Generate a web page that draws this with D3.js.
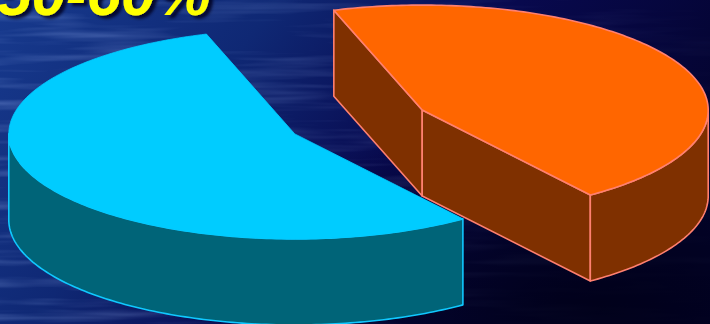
<!DOCTYPE html>
<html>
<head>
<meta charset="utf-8">
<script src="https://cdn.jsdelivr.net/npm/d3@7"></script>
<style>
html,body{margin:0;padding:0;background:#06063a;overflow:hidden;}
svg{display:block;}
</style>
</head>
<body>
<svg id="chart" width="710" height="324"></svg>
<script>
// ---- data ----
const categories = ["Cyan share", "Orange share"];
const values = [55, 45];
const titleText = "50-60%";
const topColors = ["#00ccff", "#ff6600"];
const sideColors = ["#006478", "#7f3000"];
const edgeColors = ["#10c8ff", "#ff8070"];
const explodeAmounts = [0.25, 0.25];

const W = 710, H = 324;
const svg = d3.select("#chart");
const defs = svg.append("defs");

// background
const bg = defs.append("linearGradient").attr("id", "bgGrad")
  .attr("x1", "0").attr("y1", "0").attr("x2", "1").attr("y2", "0.35");
bg.append("stop").attr("offset", "0").attr("stop-color", "#173a8e");
bg.append("stop").attr("offset", "0.35").attr("stop-color", "#0f2874");
bg.append("stop").attr("offset", "0.65").attr("stop-color", "#08094e");
bg.append("stop").attr("offset", "1").attr("stop-color", "#040430");
const dark = defs.append("radialGradient").attr("id", "darkGrad")
  .attr("cx", "0.85").attr("cy", "0.95").attr("r", "0.6");
dark.append("stop").attr("offset", "0").attr("stop-color", "#000018").attr("stop-opacity", 0.9);
dark.append("stop").attr("offset", "1").attr("stop-color", "#000018").attr("stop-opacity", 0);

const tex = defs.append("filter").attr("id", "water")
  .attr("x", 0).attr("y", 0).attr("width", "100%").attr("height", "100%");
tex.append("feTurbulence").attr("type", "fractalNoise")
  .attr("baseFrequency", "0.006 0.09").attr("numOctaves", 3).attr("seed", 7).attr("result", "n");
tex.append("feColorMatrix").attr("type", "matrix")
  .attr("values", "0 0 0 0 0.4  0 0 0 0 0.55  0 0 0 0 1  0 0 0 1.6 -0.75");

const fadeMask = defs.append("linearGradient").attr("id", "fadeG")
  .attr("x1", "0").attr("y1", "0").attr("x2", "1").attr("y2", "0");
fadeMask.append("stop").attr("offset", "0").attr("stop-color", "#fff");
fadeMask.append("stop").attr("offset", "0.55").attr("stop-color", "#888");
fadeMask.append("stop").attr("offset", "1").attr("stop-color", "#222");
defs.append("mask").attr("id", "fadeM").append("rect")
  .attr("width", W).attr("height", H).attr("fill", "url(#fadeG)");

svg.append("rect").attr("width", W).attr("height", H).attr("fill", "url(#bgGrad)");
svg.append("rect").attr("width", W).attr("height", H).attr("filter", "url(#water)")
  .attr("mask", "url(#fadeM)").attr("opacity", 0.45);
svg.append("rect").attr("width", W).attr("height", H).attr("fill", "url(#darkGrad)");

// title with drop shadow
const sh = defs.append("filter").attr("id", "tshadow")
  .attr("x", "-10%").attr("y", "-50%").attr("width", "130%").attr("height", "200%");
sh.append("feDropShadow").attr("dx", 4).attr("dy", 3).attr("stdDeviation", 1.5)
  .attr("flood-color", "#000022").attr("flood-opacity", 0.85);
svg.append("text").attr("x", -3).attr("y", 15)
  .attr("font-family", "Liberation Sans, Arial, sans-serif")
  .attr("font-weight", "bold").attr("font-style", "italic").attr("font-size", 62)
  .attr("fill", "#ffff00").attr("filter", "url(#tshadow)")
  .text(titleText);

// ---- 3D pie ----
const base = {x: 358.5, y: 122};
const rx = 286, ry = 105, depth = 86;
const deg = Math.PI / 180;
const TAU = 2 * Math.PI;

const pie = d3.pie().sort(null).value(d => d)
  .startAngle(-18 * deg - values[0] / d3.sum(values) * TAU)
  .endAngle(-18 * deg + values[1] / d3.sum(values) * TAU);
const arcs = pie(values);

const line = d3.line();
function pt(c, a, dy) { return [c.x + rx * Math.sin(a), c.y - ry * Math.cos(a) + (dy || 0)]; }
function arcPts(c, a0, a1, dy) {
  const n = Math.max(2, Math.ceil(Math.abs(a1 - a0) / (1 * deg)));
  return d3.range(n + 1).map(i => pt(c, a0 + (a1 - a0) * i / n, dy));
}

const order = [1, 0]; // back slice first
order.forEach(i => {
  const a = arcs[i];
  const mid = (a.startAngle + a.endAngle) / 2;
  const c = {x: base.x + rx * explodeAmounts[i] * Math.sin(mid),
             y: base.y - ry * explodeAmounts[i] * Math.cos(mid)};
  const g = svg.append("g").attr("class", "slice-" + i);
  const s = a.startAngle, e = a.endAngle;
  const cp = [c.x, c.y];
  // radial faces
  const faces = [];
  if (Math.sin(s) < 0) faces.push(s);
  if (Math.sin(e) > 0) faces.push(e);
  faces.forEach(ang => {
    const p = pt(c, ang);
    const poly = [cp, p, [p[0], p[1] + depth], [cp[0], cp[1] + depth]];
    g.append("path").attr("d", line(poly) + "Z")
      .attr("fill", sideColors[i]).attr("stroke", edgeColors[i]).attr("stroke-width", 1.6)
      .attr("stroke-linejoin", "round");
  });
  // outer wall (front half of ellipse, any period)
  [-1, 0, 1].forEach(k => {
    const lo = Math.max(s, Math.PI / 2 + k * TAU), hi = Math.min(e, 3 * Math.PI / 2 + k * TAU);
    if (hi > lo) {
      const top = arcPts(c, lo, hi, 0);
      const bot = arcPts(c, hi, lo, depth);
      g.append("path").attr("d", line(top.concat(bot)) + "Z")
        .attr("fill", sideColors[i]).attr("stroke", edgeColors[i]).attr("stroke-width", 1.6)
        .attr("stroke-linejoin", "round");
    }
  });
  // top face
  const topPts = [cp].concat(arcPts(c, s, e, 0));
  g.append("path").attr("d", line(topPts) + "Z")
    .attr("fill", topColors[i])
    .attr("stroke", i === 1 ? edgeColors[i] : topColors[i]).attr("stroke-width", i === 1 ? 1.6 : 0.8)
    .attr("stroke-linejoin", "round");
});
</script>
</body>
</html>
